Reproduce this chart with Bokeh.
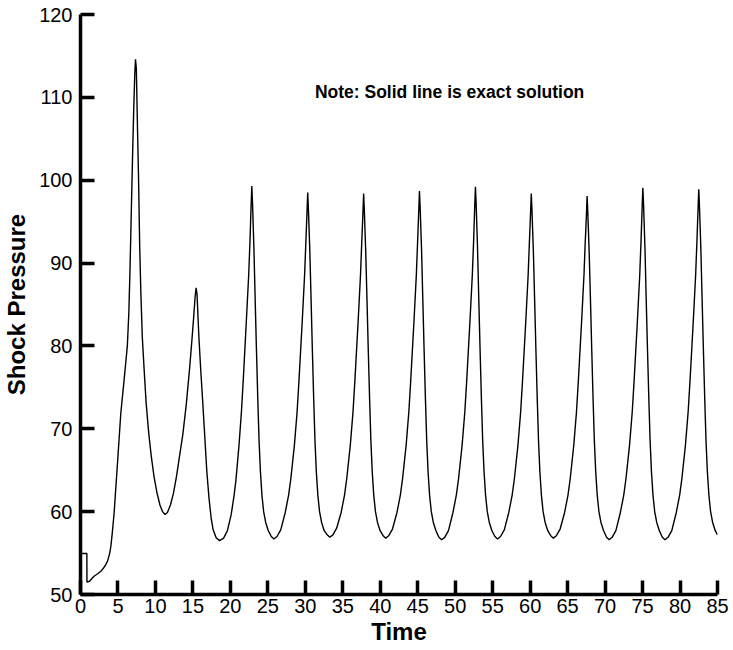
from bokeh.plotting import figure
from bokeh.models import Range1d, FixedTicker, Label
from bokeh.embed import file_html
from bokeh.resources import INLINE

x_ticks = [0, 5, 10, 15, 20, 25, 30, 35, 40, 45, 50, 55, 60, 65, 70, 75, 80, 85]
y_ticks = [50, 60, 70, 80, 90, 100, 110, 120]

# start-up transient (t = 0 .. first deep minimum)
t_start = [0.0, 0.85, 0.86, 1.2, 1.8, 2.3, 2.71, 3.0, 3.3, 3.6, 3.9, 4.05, 4.25, 4.49,
           4.94, 5.38, 5.83, 6.25, 6.45, 6.6, 6.8, 6.95, 7.1, 7.25, 7.34, 7.45, 7.6,
           7.75, 7.9, 8.05, 8.25, 8.5, 8.76, 9.1, 9.43, 9.8, 10.2, 10.6, 10.95, 11.28,
           11.6, 12.0, 12.4, 12.8, 13.2, 13.65, 14.1, 14.55, 14.85, 15.08, 15.3, 15.43,
           15.55, 15.79, 16.05, 16.32, 16.6, 16.86, 17.15, 17.44, 17.7, 18.1, 18.55]
p_start = [54.95, 54.95, 51.5, 51.6, 52.2, 52.5, 52.8, 53.1, 53.5, 54.0, 55.0, 55.8, 57.5, 59.9,
           65.9, 71.9, 76.0, 80.0, 84.0, 89.0, 97.0, 103.0, 108.5, 113.0, 114.6, 113.5, 106.5,
           100.0, 92.0, 86.5, 81.0, 77.0, 73.1, 69.5, 66.8, 64.3, 62.3, 60.8, 60.0, 59.65,
           59.9, 60.8, 62.2, 64.2, 66.6, 69.3, 72.8, 77.2, 80.5, 83.2, 86.0, 87.0,
           86.2, 81.2, 77.0, 73.1, 68.8, 64.8, 61.6, 59.2, 57.8, 56.85, 56.5]

# periodic regime, one row per cycle (rise to peak, fall to minimum)
t_cycles = [
    19.1, 19.6, 20.1, 20.5, 20.75, 21.15, 21.47, 21.72, 22.13, 22.44, 22.61, 22.76, 22.86,
    22.96, 23.14, 23.31, 23.48, 23.66, 23.83, 24.01, 24.21, 24.44, 24.71, 25.06, 25.46, 25.81,
    26.22, 26.72, 27.32, 27.77, 28.07, 28.54, 28.9, 29.16, 29.59, 29.9, 30.07, 30.22, 30.32,
    30.42, 30.6, 30.77, 30.94, 31.12, 31.29, 31.47, 31.67, 31.9, 32.17, 32.52, 32.92, 33.27,
    33.68, 34.18, 34.78, 35.23, 35.53, 36.0, 36.36, 36.62, 37.05, 37.36, 37.53, 37.68, 37.78,
    37.88, 38.06, 38.23, 38.4, 38.58, 38.75, 38.93, 39.13, 39.36, 39.63, 39.98, 40.38, 40.73,
    41.13, 41.63, 42.23, 42.68, 42.98, 43.45, 43.81, 44.07, 44.5, 44.81, 44.98, 45.13, 45.23,
    45.33, 45.51, 45.68, 45.85, 46.03, 46.2, 46.38, 46.58, 46.81, 47.08, 47.43, 47.83, 48.18,
    48.6, 49.1, 49.7, 50.15, 50.45, 50.92, 51.28, 51.54, 51.97, 52.28, 52.45, 52.6, 52.7,
    52.8, 52.98, 53.15, 53.32, 53.5, 53.67, 53.85, 54.05, 54.28, 54.55, 54.9, 55.3, 55.65,
    56.05, 56.55, 57.15, 57.6, 57.9, 58.37, 58.73, 58.99, 59.42, 59.73, 59.9, 60.05, 60.15,
    60.25, 60.43, 60.6, 60.77, 60.95, 61.12, 61.3, 61.5, 61.73, 62.0, 62.35, 62.75, 63.1,
    63.5, 64.0, 64.6, 65.05, 65.35, 65.82, 66.18, 66.44, 66.87, 67.18, 67.35, 67.5, 67.6,
    67.7, 67.88, 68.05, 68.22, 68.4, 68.57, 68.75, 68.95, 69.18, 69.45, 69.8, 70.2, 70.55,
    70.94, 71.44, 72.04, 72.49, 72.79, 73.26, 73.62, 73.88, 74.31, 74.62, 74.79, 74.94, 75.04,
    75.14, 75.32, 75.49, 75.66, 75.84, 76.01, 76.19, 76.39, 76.62, 76.89, 77.24, 77.64, 77.99,
    78.4, 78.9, 79.5, 79.95, 80.25, 80.72, 81.08, 81.34, 81.77, 82.08, 82.25, 82.4, 82.5,
    82.6, 82.78, 82.95, 83.12, 83.3, 83.47, 83.65, 83.85, 84.08, 84.35, 84.7, 85.0,
]
p_cycles = [
    56.8, 57.7, 59.6, 62.0, 63.9, 68.0, 72.0, 75.9, 83.0, 88.5, 92.5, 96.8, 99.3,
    97.1, 91.8, 85.5, 79.5, 73.5, 68.5, 64.8, 62.0, 60.0, 58.7, 57.7, 57.0, 56.7,
    57.0, 57.8, 59.9, 62.0, 64.0, 68.0, 72.0, 75.9, 83.0, 88.5, 92.5, 96.0, 98.5,
    96.3, 91.5, 85.5, 79.5, 73.5, 68.5, 64.8, 62.0, 60.0, 58.7, 57.7, 57.2, 56.9,
    57.2, 58.0, 59.9, 62.0, 64.0, 68.0, 72.0, 75.9, 83.0, 88.5, 92.5, 95.9, 98.4,
    96.2, 91.4, 85.5, 79.5, 73.5, 68.5, 64.8, 62.0, 60.0, 58.7, 57.7, 57.1, 56.8,
    57.1, 57.9, 59.9, 62.0, 64.0, 68.0, 72.0, 75.9, 83.0, 88.5, 92.5, 96.2, 98.7,
    96.5, 91.6, 85.5, 79.5, 73.5, 68.5, 64.8, 62.0, 60.0, 58.7, 57.7, 56.9, 56.6,
    56.9, 57.7, 59.9, 62.0, 64.0, 68.0, 72.0, 75.9, 83.0, 88.5, 92.5, 96.7, 99.2,
    97.0, 91.8, 85.5, 79.5, 73.5, 68.5, 64.8, 62.0, 60.0, 58.7, 57.7, 57.0, 56.7,
    57.0, 57.8, 59.9, 62.0, 64.0, 68.0, 72.0, 75.9, 83.0, 88.5, 92.5, 95.9, 98.4,
    96.2, 91.4, 85.5, 79.5, 73.5, 68.5, 64.8, 62.0, 60.0, 58.7, 57.7, 57.1, 56.8,
    57.1, 57.9, 59.9, 62.0, 64.0, 68.0, 72.0, 75.9, 83.0, 88.5, 92.5, 95.6, 98.1,
    95.9, 91.2, 85.5, 79.5, 73.5, 68.5, 64.8, 62.0, 60.0, 58.7, 57.7, 56.9, 56.6,
    56.9, 57.7, 59.9, 62.0, 64.0, 68.0, 72.0, 75.9, 83.0, 88.5, 92.5, 96.6, 99.1,
    96.9, 91.8, 85.5, 79.5, 73.5, 68.5, 64.8, 62.0, 60.0, 58.7, 57.7, 56.9, 56.6,
    56.9, 57.7, 59.9, 62.0, 64.0, 68.0, 72.0, 75.9, 83.0, 88.5, 92.5, 96.4, 98.9,
    96.7, 91.7, 85.5, 79.5, 73.5, 68.5, 64.8, 62.0, 60.0, 58.7, 57.7, 57.2,
]

note_text = "Note: Solid line is exact solution"
x_title = "Time"
y_title = "Shock Pressure"

FONT = "Liberation Sans"

p = figure(frame_width=637, frame_height=580,
           x_range=Range1d(0, 85), y_range=Range1d(50, 120),
           output_backend="svg", toolbar_location=None,
           min_border_left=73, min_border_right=15,
           min_border_top=14, min_border_bottom=48)

p.outline_line_color = None
p.xgrid.visible = False
p.ygrid.visible = False
p.background_fill_color = "white"
p.border_fill_color = "white"

for ax, ticks in ((p.xaxis, x_ticks), (p.yaxis, y_ticks)):
    ax.ticker = FixedTicker(ticks=ticks)
    ax.major_tick_in = 14
    ax.major_tick_out = 0
    ax.minor_tick_line_color = None
    ax.axis_line_width = 3.5
    ax.axis_line_color = "black"
    ax.major_tick_line_width = 3.5
    ax.major_tick_line_color = "black"
    ax.major_label_text_font = FONT
    ax.major_label_text_font_size = "20px"
    ax.major_label_text_color = "black"
    ax.axis_label_text_font = FONT
    ax.axis_label_text_font_size = "24px"
    ax.axis_label_text_font_style = "bold"
    ax.axis_label_text_color = "black"

p.xaxis.axis_label = x_title
p.yaxis.axis_label = y_title
p.xaxis.major_label_standoff = 4
p.yaxis.major_label_standoff = 8
p.xaxis.axis_label_standoff = 2
p.yaxis.axis_label_standoff = 6

p.line(t_start + t_cycles, p_start + p_cycles, line_color="black", line_width=1.4)

p.add_layout(Label(x=49.25, y=110.7, text=note_text, text_align="center",
                   text_baseline="alphabetic", text_font=FONT,
                   text_font_style="bold", text_font_size="17.5px",
                   text_color="black"))

open("out.html", "w").write(file_html(p, INLINE))
